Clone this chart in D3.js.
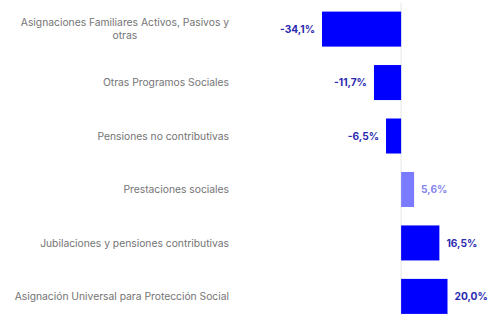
<!DOCTYPE html>
<html>
<head>
<meta charset="utf-8">
<script src="https://d3js.org/d3.v7.min.js"></script>
<style>
  body { margin: 0; background: #fff; }
  svg { display: block; font-family: Inter, "Noto Sans", sans-serif; }
</style>
</head>
<body>
<div id="chart"></div>
<script>
// categories and values (variation %)
const categories = [
  "Asignaciones Familiares Activos, Pasivos y|otras",
  "Otras Programos Sociales",
  "Pensiones no contributivas",
  "Prestaciones sociales",
  "Jubilaciones y pensiones contributivas",
  "Asignación Universal para Protección Social"
];
const values = [-34.1, -11.7, -6.5, 5.6, 16.5, 20.0];
const valueLabels = ["-34,1%", "-11,7%", "-6,5%", "5,6%", "16,5%", "20,0%"];
const highlight = [true, true, true, false, true, true];

const width = 497, height = 315;
const svg = d3.select('#chart').append('svg')
  .attr('width', width).attr('height', height);

// x scale: zero line sits at ~401px
const x = d3.scaleLinear().domain([-34.1, 20]).range([322, 447.5]);
const y = d3.scaleBand().domain(d3.range(categories.length))
  .range([2.5, 323]).paddingInner(0.345).paddingOuter(0.17);

// zero line
svg.append('line')
  .attr('x1', x(0)).attr('x2', x(0))
  .attr('y1', 3).attr('y2', height)
  .attr('stroke', '#e6e6e6').attr('stroke-width', 1);

const rows = svg.selectAll('g.row').data(values).enter().append('g');

rows.append('rect')
  .attr('x', d => x(Math.min(0, d)))
  .attr('width', d => Math.abs(x(d) - x(0)))
  .attr('y', (d, i) => y(i))
  .attr('height', y.bandwidth())
  .attr('fill', (d, i) => highlight[i] ? '#0000ff' : '#7b7bff');

rows.append('text')
  .attr('x', d => d < 0 ? x(d) - 7 : x(d) + 7)
  .attr('y', (d, i) => y(i) + y.bandwidth() / 2)
  .attr('dy', '0.35em')
  .attr('text-anchor', d => d < 0 ? 'end' : 'start')
  .attr('font-size', 10.2)
  .attr('font-weight', 700)
  .attr('fill', (d, i) => highlight[i] ? '#2a2ab0' : '#8585ee')
  .text((d, i) => valueLabels[i]);

// category labels, right aligned; wrapped lines centred under the first
categories.forEach((c, i) => {
  const lines = c.split('|');
  const cy = y(i) + y.bandwidth() / 2;
  const t = svg.append('text')
    .attr('font-size', 10.3)
    .attr('fill', '#747474')
    .attr('text-anchor', 'end')
    .attr('x', 229)
    .attr('y', cy - (lines.length - 1) * 6.5)
    .attr('dy', '0.35em')
    .text(lines[0]);
  if (lines.length > 1) {
    const w = t.node().getComputedTextLength();
    svg.append('text')
      .attr('font-size', 10.3)
      .attr('fill', '#747474')
      .attr('text-anchor', 'middle')
      .attr('x', 229 - w / 2)
      .attr('y', cy + 6.5)
      .attr('dy', '0.35em')
      .text(lines[1]);
  }
});
</script>
</body>
</html>
